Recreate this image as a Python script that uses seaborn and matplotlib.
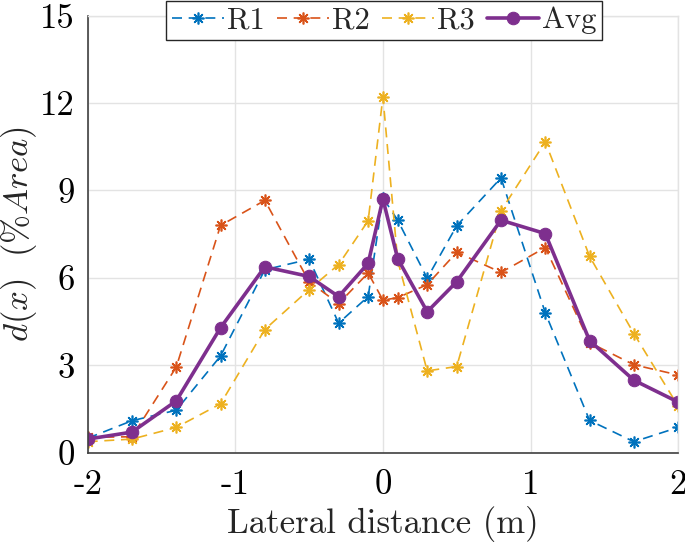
import matplotlib
matplotlib.use("Agg")
import matplotlib.pyplot as plt
import seaborn as sns
import pandas as pd
import numpy as np

# Data
x = [-2, -1.7, -1.4, -1.1, -0.8, -0.5, -0.3, -0.1, 0, 0.1, 0.3, 0.5, 0.8, 1.1, 1.4, 1.7, 2]
r1 = [0.50, 1.10, 1.46, 3.32, 6.28, 6.64, 4.45, 5.36, 8.75, 7.98, 5.99, 7.79, 9.43, 4.80, 1.11, 0.38, 0.87]
r2 = [0.53, 0.55, 2.94, 7.80, 8.66, 5.87, 5.12, 6.17, 5.24, 5.32, 5.77, 6.88, 6.19, 7.04, 3.78, 3.02, 2.67]
r3 = [0.38, 0.47, 0.87, 1.68, 4.23, 5.60, 6.46, 7.96, 12.21, 6.60, 2.81, 2.96, 8.30, 10.67, 6.74, 4.09, 1.60]
avg = [0.47, 0.71, 1.78, 4.29, 6.38, 6.05, 5.36, 6.50, 8.71, 6.66, 4.84, 5.87, 7.98, 7.52, 3.85, 2.49, 1.74]
xticks = [-2, -1, 0, 1, 2]
xticklabels = ["-2", "-1", "0", "1", "2"]
yticks = [0, 3, 6, 9, 12, 15]
yticklabels = ["0", "3", "6", "9", "12", "15"]

sns.set_style("white")
plt.rcParams["font.family"] = ["cmr10", "DejaVu Serif"]
plt.rcParams["mathtext.fontset"] = "cm"
plt.rcParams["axes.unicode_minus"] = False

df = pd.DataFrame({"x": x, "R1": r1, "R2": r2, "R3": r3, "Avg": avg})

fig = plt.figure(figsize=(6.85, 5.42), dpi=100)
ax = fig.add_axes([0.128, 0.1646, 0.862, 0.8066])

colors = {"R1": "#0072BD", "R2": "#D95319", "R3": "#EDB120", "Avg": "#7E2F8E"}
ast = (8, 2, 0)
for name in ["R1", "R2", "R3"]:
    sns.lineplot(data=df, x="x", y=name, ax=ax, color=colors[name], lw=1.2,
                 linestyle=(0, (6, 4)), marker=ast, markersize=8.5, markeredgewidth=1.2,
                 markeredgecolor=colors[name], label=name)
sns.lineplot(data=df, x="x", y="Avg", ax=ax, color=colors["Avg"], lw=2.6,
             marker="o", markersize=9, markeredgecolor=colors["Avg"], label="Avg")

ax.set_xlim(-2, 2)
ax.set_ylim(0, 15)
ax.set_xticks(xticks)
ax.set_xticklabels(xticklabels)
ax.set_yticks(yticks)
ax.set_yticklabels(yticklabels)
ax.grid(True, color="#e3e3e3", lw=1)
ax.set_axisbelow(True)
for s in ["top", "right"]:
    ax.spines[s].set_color("#e3e3e3")
    ax.spines[s].set_linewidth(1)
for s in ["left", "bottom"]:
    ax.spines[s].set_color("#404040")
    ax.spines[s].set_linewidth(1.2)
ax.tick_params(axis="both", direction="in", length=5, width=1, color="#404040",
               labelsize=25, labelcolor="black")
ax.tick_params(axis="x", pad=12)
ax.tick_params(axis="y", pad=9)

ax.set_xlabel("Lateral distance (m)", fontsize=25)
ax.xaxis.set_label_coords(0.5, -0.122)
ax.set_ylabel(r"$d(x)\ \ (\%Area)$", fontsize=25)
ax.yaxis.set_label_coords(-0.083, 0.5)

leg = ax.legend(loc="upper center", bbox_to_anchor=(0.502, 1.034), ncol=4, fontsize=22,
                frameon=True, fancybox=False, edgecolor="#262626", framealpha=1,
                handlelength=1.7, handletextpad=0.1, columnspacing=0.4,
                borderpad=0.2, borderaxespad=0)
leg.get_frame().set_linewidth(1.0)

fig.savefig("out.png", dpi=100)
